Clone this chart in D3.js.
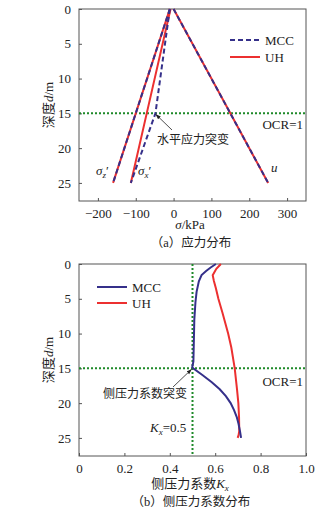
<!DOCTYPE html>
<html><head><meta charset="utf-8">
<script src="https://cdn.jsdelivr.net/npm/d3@7"></script>
<style>
body{margin:0;background:#fff;}
svg{display:block;}
text{font-family:"Liberation Serif","Times New Roman","Noto Sans CJK SC",serif;fill:#222;}
.cn{font-family:"Liberation Serif","Noto Sans CJK SC",serif;}
</style></head>
<body>
<script>
// ---- Data: chart (a) stress distribution ----
const stressDepth = [0, 15, 25];
const uUH = [0, 150, 250];
const uMCC = [0, 150, 250];
const szUH = [-10, -100, -160];
const szMCC = [-10, -100, -160];
const sxUH = [-8, -71, -113];
const sxMCC = [-10, -48, -113];
const stressTicks = [-200, -100, 0, 100, 200, 300];
const depthTicks = [0, 5, 10, 15, 20, 25];

// ---- Data: chart (b) lateral pressure coefficient ----
const kMCCDepth = [0, 0.5, 1, 1.6, 2.5, 4, 5.5, 8, 11, 14, 14.8, 15, 16, 17, 18, 19, 20, 21, 22, 23, 24, 25];
const kMCC = [0.603, 0.58, 0.56, 0.54, 0.528, 0.518, 0.513, 0.508, 0.506, 0.504, 0.499, 0.503, 0.545, 0.585, 0.62, 0.647, 0.668, 0.683, 0.695, 0.703, 0.709, 0.714];
const kUHDepth = [0, 0.7, 1.6, 2.4, 3.5, 5, 7, 10, 12, 15, 18, 20, 22, 24, 24.6, 25];
const kUH = [0.625, 0.605, 0.589, 0.594, 0.603, 0.614, 0.632, 0.657, 0.671, 0.686, 0.696, 0.702, 0.705, 0.706, 0.703, 0.699];
const kTicks = [0, 0.2, 0.4, 0.6, 0.8, 1.0];

const W = 326, H = 512;
const BLUE = "#35308a", RED = "#ec3030", GREEN = "#1f8a2a";
const svg = d3.select("body").append("svg").attr("width", W).attr("height", H);

function panel(top, bottom, xDomain, xTicks, fmt) {
  const x = d3.scaleLinear().domain(xDomain).range([79, 306]);
  const y = d3.scaleLinear().domain([0, 27.6]).range([top, bottom]);
  const g = svg.append("g");
  g.append("rect").attr("x", 79).attr("y", top).attr("width", 227).attr("height", bottom - top)
    .attr("fill", "none").attr("stroke", "#555").attr("stroke-width", 1);
  const ya = g.append("g").attr("transform", "translate(79,0)")
    .call(d3.axisLeft(y).tickValues(depthTicks).tickSize(-3).tickPadding(8).tickFormat(d3.format("d")));
  const xa = g.append("g").attr("transform", `translate(0,${bottom})`)
    .call(d3.axisBottom(x).tickValues(xTicks).tickSize(-3).tickPadding(8).tickFormat(fmt));
  [ya, xa].forEach(a => {
    a.select(".domain").remove();
    a.selectAll("line").attr("stroke", "#555");
    a.selectAll("text").attr("font-size", 13).style("font-family", '"Liberation Serif",serif').attr("fill", "#222");
  });
  // y label
  const yl = g.append("text").attr("transform", `translate(53,${(top + bottom) / 2}) rotate(-90)`)
    .attr("text-anchor", "middle").attr("font-size", 13).attr("class", "cn");
  yl.append("tspan").text("深度");
  yl.append("tspan").attr("font-style", "italic").text("d");
  yl.append("tspan").text("/m");
  return {x, y, g};
}

// ---------- Panel (a) ----------
const A = panel(9, 201, [-250, 350], stressTicks, d => d3.format("d")(d).replace("-", "−"));
const lineA = (vals) => d3.line().x((d, i) => A.x(vals[i])).y((d, i) => A.y(stressDepth[i]))(stressDepth);
// OCR line
A.g.append("line").attr("x1", 79).attr("x2", 306).attr("y1", A.y(15)).attr("y2", A.y(15))
  .attr("stroke", GREEN).attr("stroke-width", 2).attr("stroke-dasharray", "2,2");
[uUH, szUH, sxUH].forEach(v => A.g.append("path").attr("d", lineA(v)).attr("fill", "none")
  .attr("stroke", RED).attr("stroke-width", 2));
[uMCC, szMCC, sxMCC].forEach(v => A.g.append("path").attr("d", lineA(v)).attr("fill", "none")
  .attr("stroke", BLUE).attr("stroke-width", 2).attr("stroke-dasharray", "5,3"));
// legend
A.g.append("line").attr("x1", 230).attr("x2", 260).attr("y1", 40).attr("y2", 40)
  .attr("stroke", BLUE).attr("stroke-width", 2).attr("stroke-dasharray", "5,3");
A.g.append("text").attr("x", 265).attr("y", 45).attr("font-size", 13).text("MCC");
A.g.append("line").attr("x1", 230).attr("x2", 260).attr("y1", 57).attr("y2", 57)
  .attr("stroke", RED).attr("stroke-width", 2);
A.g.append("text").attr("x", 265).attr("y", 62).attr("font-size", 13).text("UH");
A.g.append("text").attr("x", 303).attr("y", 129).attr("text-anchor", "end").attr("font-size", 13).text("OCR=1");
// annotation
svg.append("defs").append("marker").attr("id", "arr").attr("viewBox", "0 0 10 10").attr("refX", 9).attr("refY", 5)
  .attr("markerWidth", 7).attr("markerHeight", 7).attr("orient", "auto")
  .append("path").attr("d", "M0,1.5 L10,5 L0,8.5 z").attr("fill", "#222");
A.g.append("line").attr("x1", 172).attr("y1", 130).attr("x2", A.x(-47)).attr("y2", A.y(15) + 1)
  .attr("stroke", "#222").attr("stroke-width", 0.8).attr("marker-end", "url(#arr)");
A.g.append("text").attr("x", 157).attr("y", 144).attr("font-size", 12).attr("class", "cn").text("水平应力突变");
function sigLabel(xp, sub) {
  const t = A.g.append("text").attr("x", xp).attr("y", 175).attr("font-size", 13);
  t.append("tspan").attr("font-style", "italic").text("σ");
  t.append("tspan").attr("font-size", 9).attr("dy", 3).attr("font-style", "italic").text(sub);
  t.append("tspan").attr("dy", -3).text("′");
}
sigLabel(96, "z");
sigLabel(138, "x");
A.g.append("text").attr("x", 271).attr("y", 172).attr("font-size", 13).attr("font-style", "italic").text("u");
const xlA = svg.append("text").attr("x", 190).attr("y", 229).attr("text-anchor", "middle").attr("font-size", 13);
xlA.append("tspan").attr("font-style", "italic").text("σ");
xlA.append("tspan").text("/kPa");
svg.append("text").attr("x", 191).attr("y", 247).attr("text-anchor", "middle").attr("font-size", 12.5)
  .attr("class", "cn").text("（a）应力分布");

// ---------- Panel (b) ----------
const B = panel(264, 456, [0, 1], kTicks, d => d === 0 ? "0" : d3.format(".1f")(d));
B.g.append("line").attr("x1", 79).attr("x2", 306).attr("y1", B.y(15)).attr("y2", B.y(15))
  .attr("stroke", GREEN).attr("stroke-width", 2).attr("stroke-dasharray", "2,2");
B.g.append("line").attr("x1", B.x(0.5)).attr("x2", B.x(0.5)).attr("y1", 264).attr("y2", 456)
  .attr("stroke", GREEN).attr("stroke-width", 2).attr("stroke-dasharray", "2,2");
const lineB = d3.line().x(d => B.x(d[1])).y(d => B.y(d[0]));
B.g.append("path").attr("d", lineB(kUHDepth.map((d, i) => [d, kUH[i]]))).attr("fill", "none")
  .attr("stroke", RED).attr("stroke-width", 2);
B.g.append("path").attr("d", lineB(kMCCDepth.map((d, i) => [d, kMCC[i]]))).attr("fill", "none")
  .attr("stroke", BLUE).attr("stroke-width", 2);
B.g.append("line").attr("x1", 97).attr("x2", 127).attr("y1", 287).attr("y2", 287).attr("stroke", BLUE).attr("stroke-width", 2);
B.g.append("text").attr("x", 132).attr("y", 292).attr("font-size", 13).text("MCC");
B.g.append("line").attr("x1", 97).attr("x2", 127).attr("y1", 303).attr("y2", 303).attr("stroke", RED).attr("stroke-width", 2);
B.g.append("text").attr("x", 132).attr("y", 308).attr("font-size", 13).text("UH");
B.g.append("text").attr("x", 303).attr("y", 386).attr("text-anchor", "end").attr("font-size", 13).text("OCR=1");
B.g.append("line").attr("x1", 173).attr("y1", 387).attr("x2", B.x(0.5) - 1).attr("y2", B.y(15) + 1)
  .attr("stroke", "#222").attr("stroke-width", 0.8).attr("marker-end", "url(#arr)");
B.g.append("text").attr("x", 103).attr("y", 398).attr("font-size", 12).attr("class", "cn").text("侧压力系数突变");
const kl = B.g.append("text").attr("x", 150).attr("y", 432).attr("font-size", 13);
kl.append("tspan").attr("font-style", "italic").text("K");
kl.append("tspan").attr("font-style", "italic").attr("font-size", 9).attr("dy", 3).text("x");
kl.append("tspan").attr("dy", -3).text("=0.5");
const xlB = svg.append("text").attr("x", 190).attr("y", 488).attr("text-anchor", "middle").attr("font-size", 13).attr("class", "cn");
xlB.append("tspan").text("侧压力系数");
xlB.append("tspan").attr("font-style", "italic").text("K");
xlB.append("tspan").attr("font-style", "italic").attr("font-size", 9).attr("dy", 3).text("x");
svg.append("text").attr("x", 191).attr("y", 506).attr("text-anchor", "middle").attr("font-size", 12.5)
  .attr("class", "cn").text("（b）侧压力系数分布");
</script>
</body></html>
